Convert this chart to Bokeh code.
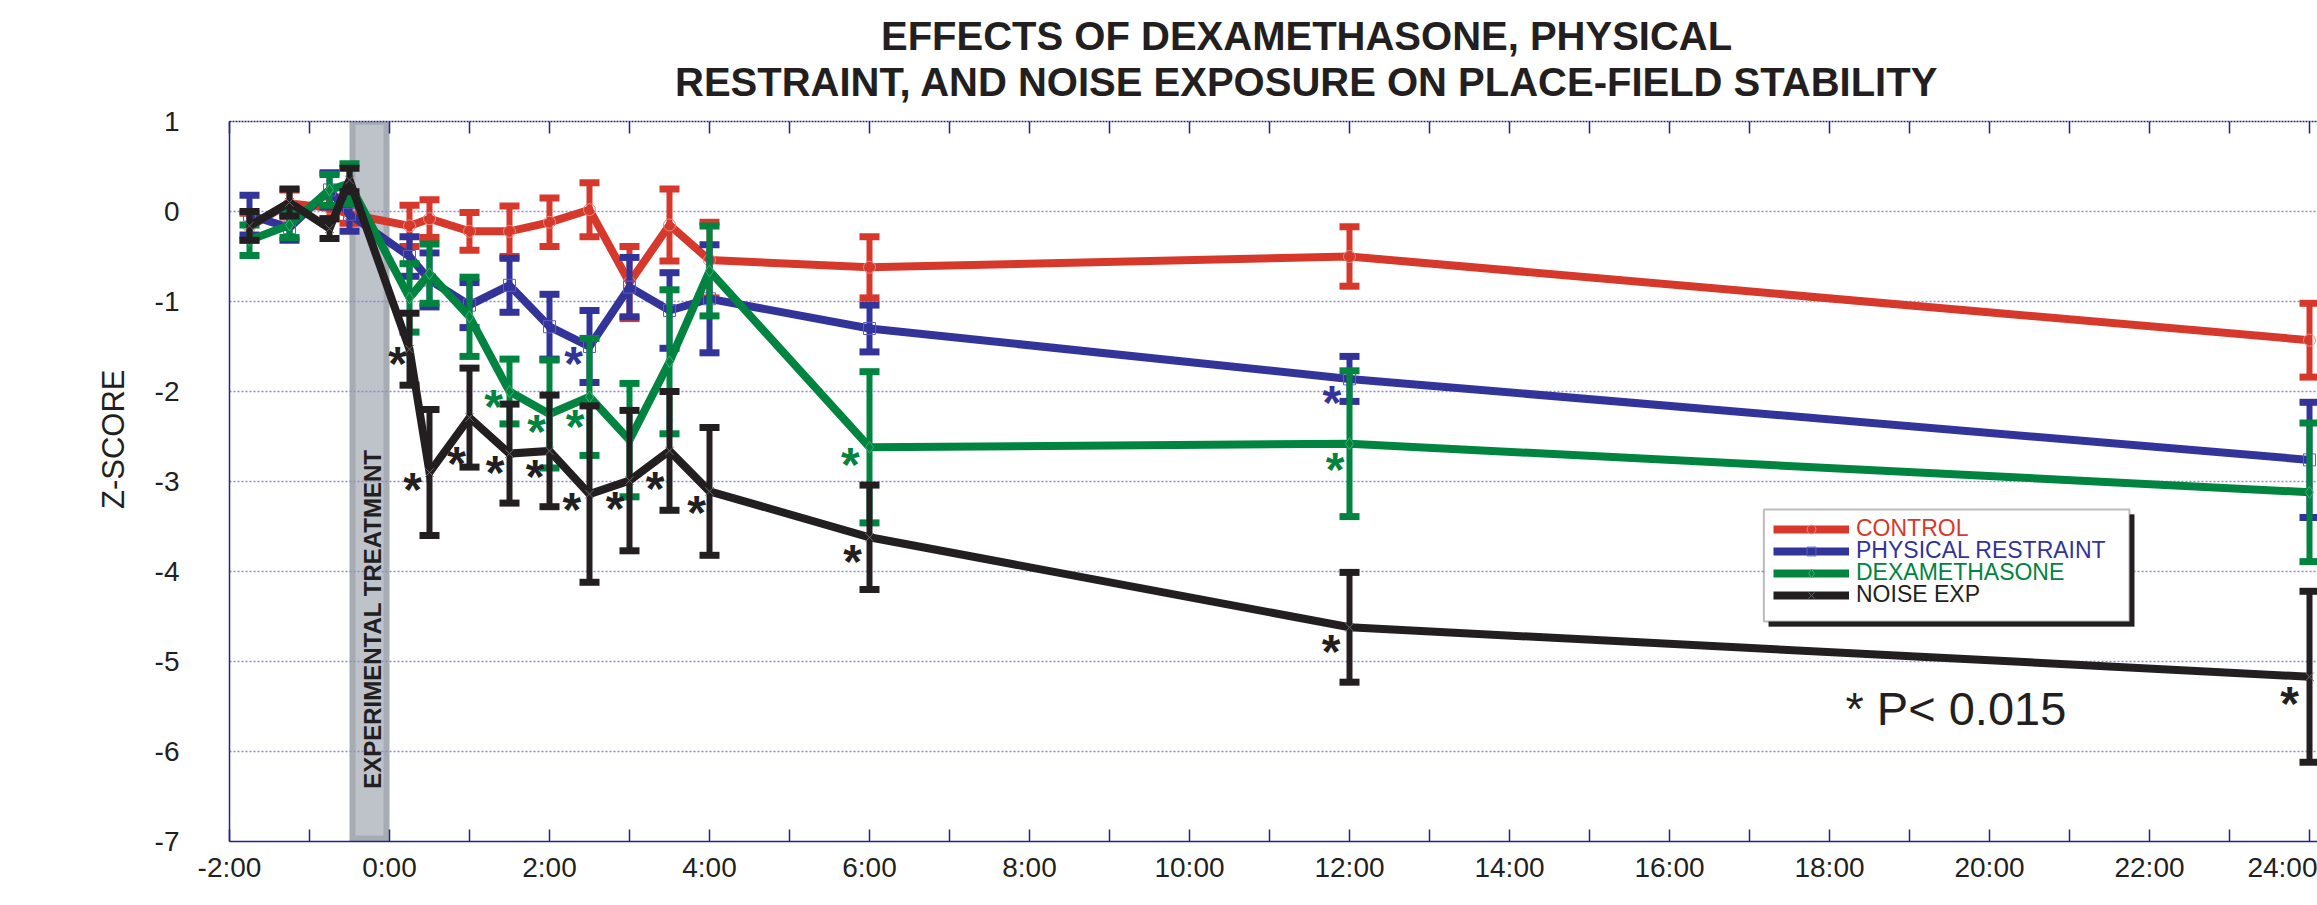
import math
from bokeh.plotting import figure
from bokeh.models import (ColumnDataSource, Range1d, LinearAxis, FixedTicker, Label,
                          Legend, LegendItem, BoxAnnotation, Title)
from bokeh.core.properties import value
from bokeh.embed import file_html
from bokeh.resources import INLINE

# ---------------- data (hours relative to treatment, z-scores) ----------------
times = [-1.75, -1.25, -0.75, -0.5, 0.25, 0.5, 1, 1.5, 2, 2.5, 3, 3.5, 4, 6, 12, 24]

control = [-0.17, 0.09, 0.04, -0.03, -0.16, -0.08, -0.22, -0.22, -0.12, 0.02, -0.79, -0.15, -0.54, -0.62, -0.50, -1.43]
control_err = [0.15, 0.15, 0.12, 0.10, 0.23, 0.21, 0.21, 0.28, 0.27, 0.30, 0.40, 0.40, 0.42, 0.34, 0.33, 0.41]

restraint = [-0.04, -0.18, 0.24, -0.03, -0.50, -0.76, -1.04, -0.82, -1.28, -1.50, -0.84, -1.10, -0.97, -1.30, -1.86, -2.76]
restraint_err = [0.22, 0.14, 0.19, 0.19, 0.22, 0.30, 0.25, 0.30, 0.36, 0.40, 0.33, 0.42, 0.60, 0.26, 0.25, 0.64]

dexa = [-0.32, -0.15, 0.24, 0.31, -0.96, -0.69, -1.17, -2.00, -2.25, -2.06, -2.54, -1.67, -0.66, -2.62, -2.58, -3.12]
dexa_err = [0.17, 0.14, 0.17, 0.22, 0.38, 0.33, 0.44, 0.36, 0.60, 0.65, 0.63, 0.80, 0.50, 0.84, 0.81, 0.77]

noise = [-0.16, 0.10, -0.19, 0.35, -1.53, -2.90, -2.29, -2.69, -2.66, -3.14, -2.99, -2.66, -3.11, -3.62, -4.62, -5.17]
noise_err = [0.16, 0.15, 0.11, 0.13, 0.40, 0.70, 0.55, 0.55, 0.62, 0.98, 0.78, 0.66, 0.71, 0.58, 0.61, 0.95]

# significance asterisks (time, z)
noise_star_t = [0.10, 0.29, 0.84, 1.32, 1.82, 2.28, 2.82, 3.32, 3.84, 5.79, 11.77, 23.75]
noise_star_z = [-1.64, -3.04, -2.75, -2.86, -2.90, -3.27, -3.25, -3.03, -3.30, -3.84, -4.84, -5.42]
dexa_star_t = [1.30, 1.84, 2.32, 5.76, 11.82]
dexa_star_z = [-2.12, -2.40, -2.34, -2.77, -2.82]
restraint_star_t = [2.30, 11.78]
restraint_star_z = [-1.64, -2.08]

treatment_start = -0.5
treatment_end = 0.0

tick_hours = [-2, 0, 2, 4, 6, 8, 10, 12, 14, 16, 18, 20, 22, 24]
tick_labels = ["-2:00", "0:00", "2:00", "4:00", "6:00", "8:00", "10:00", "12:00",
               "14:00", "16:00", "18:00", "20:00", "22:00", "24:00"]
minor_hours = list(range(-2, 25))
y_ticks = [-7, -6, -5, -4, -3, -2, -1, 0, 1]
y_labels = ["-7", "-6", "-5", "-4", "-3", "-2", "-1", "0", "1"]

series_names = ["CONTROL", "PHYSICAL RESTRAINT", "DEXAMETHASONE", "NOISE EXP"]
title_lines = ["EFFECTS OF DEXAMETHASONE, PHYSICAL",
               "RESTRAINT, AND NOISE EXPOSURE ON PLACE-FIELD STABILITY"]

# ---------------- styling ----------------
RED = "#D6392C"
BLUE = "#32349A"
GREEN = "#00843F"
BLACK = "#231F20"
AXIS = "#23238C"
GRID = "#8A8AD2"
FONT = "Liberation Sans"

p = figure(width=2317, height=905, output_backend="svg", toolbar_location=None,
           title=None,
           x_range=Range1d(-2, 24.1), y_range=Range1d(-7, 1),
           min_border_left=229, min_border_right=0, min_border_top=121,
           min_border_bottom=64)
p.outline_line_color = None
p.background_fill_color = "white"
p.border_fill_color = "white"

# x axis (bottom)
overrides = {h: "" for h in minor_hours}
for h, lbl in zip(tick_hours, tick_labels):
    overrides[h] = lbl
xa = p.xaxis[0]
xa.ticker = FixedTicker(ticks=minor_hours)
xa.major_label_overrides = overrides
xa.major_tick_in = 12
xa.major_tick_out = 0
xa.major_tick_line_color = AXIS
xa.major_tick_line_width = 1.5
xa.minor_tick_line_color = None
xa.axis_line_color = AXIS
xa.axis_line_width = 1.5
xa.major_label_standoff = 10
xa.major_label_text_font = FONT
xa.major_label_text_font_size = "28px"
xa.major_label_text_color = BLACK

# top tick axis
top = LinearAxis(ticker=FixedTicker(ticks=minor_hours),
                 major_label_overrides={h: "" for h in minor_hours},
                 major_tick_in=12, major_tick_out=0,
                 major_tick_line_color=AXIS, major_tick_line_width=1.5,
                 minor_tick_line_color=None,
                 axis_line_color=AXIS, axis_line_dash="2 1", axis_line_width=1.5,
                 major_label_standoff=0, major_label_text_font_size="1px")
p.add_layout(top, "above")
# invisible spacer between the plot and the title
spacer = LinearAxis(ticker=FixedTicker(ticks=[0]),
                    major_label_overrides={0: ""},
                    major_tick_in=0, major_tick_out=18, major_tick_line_alpha=0,
                    minor_tick_line_color=None, axis_line_alpha=0,
                    major_label_standoff=0, major_label_text_font_size="1px")
p.add_layout(spacer, "above")

# title lines (line nearest the plot first)
p.add_layout(Title(text=title_lines[1], align="left", offset=445.5, standoff=0,
                   text_font=FONT, text_font_style="bold", text_font_size="40px",
                   text_line_height=0.8, text_color=BLACK), "above")
p.add_layout(Title(text=title_lines[0], align="left", offset=651.5, standoff=0,
                   text_font=FONT, text_font_style="bold", text_font_size="40px",
                   text_line_height=0.8, text_color=BLACK), "above")

# y axis
ya = p.yaxis[0]
ya.ticker = FixedTicker(ticks=y_ticks)
ya.major_label_overrides = dict(zip(y_ticks, y_labels))
ya.major_tick_in = 0
ya.major_tick_out = 0
ya.minor_tick_line_color = None
ya.axis_line_color = AXIS
ya.axis_line_width = 1.5
ya.major_label_standoff = 50
ya.major_label_text_font = FONT
ya.major_label_text_font_size = "28px"
ya.major_label_text_color = BLACK

# y axis title
p.add_layout(Title(text="Z-SCORE", align="right", offset=248, standoff=41,
                   text_font=FONT, text_font_style="normal", text_font_size="31px",
                   text_color=BLACK), "left")

p.xgrid.visible = False
p.ygrid.grid_line_color = GRID
p.ygrid.grid_line_dash = "2 2"
p.ygrid.grid_line_width = 1.5

# treatment bar (below grid)
p.quad(left=[treatment_start], right=[treatment_end], bottom=[-7], top=[1],
       fill_color="#A7ACB3", line_color=None, level="underlay")
p.quad(left=[treatment_start + 0.075], right=[treatment_end - 0.075],
       bottom=[-7 + 0.067], top=[1 - 0.035],
       fill_color="#BEC3CA", line_color=None, level="underlay")

# series
series = [
    (control, control_err, RED, "#E88880", "circle"),
    (restraint, restraint_err, BLUE, "#5C5EC0", "square"),
    (dexa, dexa_err, GREEN, "#3FAE70", "diamond"),
    (noise, noise_err, BLACK, "#666666", "x"),
]
legend_rends = []
for vals, errs, col, mcol, mk in series:
    src = ColumnDataSource(dict(
        t=times, z=vals,
        lo=[v - e for v, e in zip(vals, errs)],
        hi=[v + e for v, e in zip(vals, errs)],
    ))
    p.segment(x0="t", y0="lo", x1="t", y1="hi", source=src, line_color=col, line_width=6)
    p.scatter(x="t", y="lo", source=src, marker="dash", size=20, line_color=col, line_width=7)
    p.scatter(x="t", y="hi", source=src, marker="dash", size=20, line_color=col, line_width=7)
    ln = p.line(x="t", y="z", source=src, line_color=col, line_width=8, line_join="miter")
    mr = p.scatter(x="t", y="z", source=src, marker=mk, size=12, fill_color=None,
                   line_color=mcol, line_width=1)
    legend_rends.append([ln, mr])

# asterisks
for st, sz, col in [(noise_star_t, noise_star_z, BLACK),
                    (dexa_star_t, dexa_star_z, GREEN),
                    (restraint_star_t, restraint_star_z, BLUE)]:
    ssrc = ColumnDataSource(dict(x=st, y=sz, s=["*"] * len(st)))
    p.text(x="x", y="y", text="s", source=ssrc, text_color=col,
           text_font=value(FONT), text_font_style="bold", text_font_size="48px",
           text_align="center", text_baseline="alphabetic", y_offset=4)

# treatment label
p.add_layout(Label(x=-0.217, y=-4.53, text="EXPERIMENTAL TREATMENT", angle=math.pi / 2,
                   text_align="center", text_baseline="middle", text_font=FONT,
                   text_font_style="bold", text_font_size="24px", text_color=BLACK))

# significance note
p.add_layout(Label(x=18.2, y=-5.52, text="* P< 0.015", text_align="left",
                   text_baseline="alphabetic", text_font=FONT, text_font_size="47px",
                   text_color=BLACK))

# legend box with shadow
p.add_layout(BoxAnnotation(left=17.24, right=21.81, top=-3.367, bottom=-4.611,
                           fill_color=BLACK, fill_alpha=1, line_color=BLACK))
p.add_layout(BoxAnnotation(left=17.18, right=21.75, top=-3.311, bottom=-4.556,
                           fill_color="white", fill_alpha=1, line_color=BLACK,
                           line_width=2))

for i, (name, (vals, errs, col, mcol, mk)) in enumerate(zip(series_names, series)):
    lg = Legend(items=[LegendItem(label=name, renderers=legend_rends[i])],
                location=(1544, 299 - 22 * i), orientation="vertical",
                label_text_color=col, label_text_font=FONT, label_text_font_size="23px",
                glyph_width=76, glyph_height=22, label_height=22, label_standoff=7,
                padding=0, margin=0, spacing=0, border_line_color=None,
                background_fill_alpha=0)
    p.add_layout(lg, "center")

open("out.html", "w").write(file_html(p, INLINE))
